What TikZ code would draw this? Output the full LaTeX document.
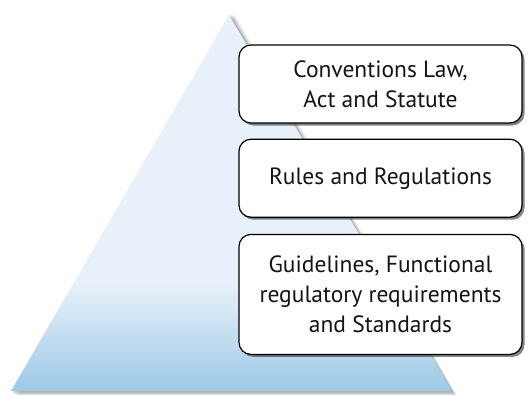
\documentclass[tikz,border=0pt]{standalone}
\usepackage{fontspec}
\setmainfont{PT Sans}
\usetikzlibrary{positioning, shadows}

\definecolor{pyrtop}{HTML}{E8F1FA}
\definecolor{pyrbot}{HTML}{9DC8E6}
\definecolor{txt}{HTML}{141414}

\begin{document}
\begin{tikzpicture}[x=1pt, y=-1pt, node distance=15pt]
        \tikzstyle{level} = [draw=black, line width=1.2pt, rounded corners=12pt, fill=white,
            minimum width=283pt, align=center, text=txt,
            font=\fontsize{23.5}{30}\selectfont,
            drop shadow={shadow xshift=2.5pt, shadow yshift=-2.5pt, opacity=0.6, fill=black!80}]

        \useasboundingbox (0,0) rectangle (529,394);

        % Corners of the pyramid
        \coordinate (apex) at (229,15);
        \coordinate (baseleft) at (11,391);
        \coordinate (baseright) at (452,391);

        % soft shadow behind the pyramid
        \foreach \s/\o in {6/0.05, 4.5/0.07, 3/0.1, 1.5/0.14}
            \fill[black, opacity=\o] ([xshift=\s pt]apex) -- ([xshift=\s pt, yshift=-\s pt]baseright)
                -- ([xshift=\s pt, yshift=-\s pt]baseleft) -- cycle;

        % Pyramid: flat light blue on top, darker towards the base
        \begin{scope}
            \clip (apex) -- (baseright) -- (baseleft) -- cycle;
            \fill[pyrtop] (0,0) rectangle (529,284);
            \shade[top color=pyrtop, bottom color=pyrbot] (0,283.5) rectangle (529,392);
        \end{scope}

        % Levels of the hierarchy
        \node [level, minimum height=78pt] at (380.5,84) (law) {Conventions Law,\\Act and Statute};
        \node [level, minimum height=78pt, below=15pt of law] (rules) {Rules and Regulations};
        \node [level, minimum height=120pt, below=16pt of rules] (guide)
            {Guidelines, Functional\\regulatory requirements\\and Standards};

\end{tikzpicture}
\end{document}
